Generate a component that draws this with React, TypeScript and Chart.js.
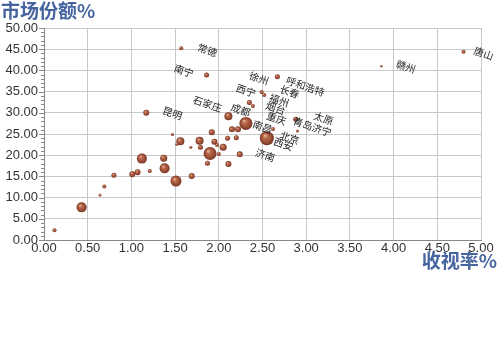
import React, { useEffect, useRef } from "react";
import { Chart, registerables } from "chart.js";
Chart.register(...registerables);

// viewing rate (%)
const ratings = [0.12, 0.43, 0.64, 0.69, 0.80, 1.01, 1.07, 1.12, 1.21, 1.37, 1.38, 1.51, 1.69, 1.47, 1.56, 1.52, 1.68, 1.78, 1.79, 1.92, 1.95, 1.98, 1.90, 1.87, 2.05, 2.00, 2.10, 2.11, 2.24, 2.11, 2.15, 2.22, 2.31, 2.20, 2.35, 2.39, 2.49, 2.52, 2.67, 2.55, 2.62, 2.88, 2.90, 1.17, 1.57, 1.86, 3.86, 4.80];
// market share (%)
const shares = [2.3, 7.7, 10.6, 12.6, 15.3, 15.5, 16.0, 19.2, 16.3, 19.3, 16.9, 13.9, 15.1, 24.9, 23.3, 22.6, 21.9, 23.4, 21.9, 25.4, 23.2, 22.4, 20.4, 18.1, 21.9, 20.3, 24.0, 17.9, 20.2, 29.2, 26.1, 26.1, 27.5, 24.1, 32.4, 31.6, 34.9, 34.2, 38.5, 24.0, 26.2, 28.5, 25.7, 30.0, 45.2, 38.9, 41.0, 44.4];
// bubble size
const sizes = [2, 5, 1.5, 2, 2.5, 3, 3, 5, 2, 3.5, 5, 5.5, 3, 1.5, 4, 1.5, 1.5, 4, 2.5, 3, 3, 2, 6.5, 2.5, 3.5, 2, 2.5, 3, 3, 4, 3, 3, 6.5, 2.5, 2.5, 2, 2, 2, 2.5, 7, 2, 2.5, 1.5, 3, 2, 2.5, 1.2, 2];

const cityNames = ["常德", "南宁", "徐州", "呼和浩特", "西宁", "长春", "福州", "烟台", "石家庄", "成都", "昆明", "太原", "重庆", "青岛济宁", "南昌", "北京", "西安", "济南", "赣州", "唐山"];
const cityLabelX = [1.87, 1.60, 2.46, 2.99, 2.31, 2.81, 2.69, 2.65, 1.87, 2.25, 1.47, 3.20, 2.66, 3.07, 2.50, 2.81, 2.74, 2.53, 4.14, 5.03];
const cityLabelY = [44.8, 39.9, 38.1, 36.2, 35.2, 35.0, 32.9, 31.1, 32.1, 30.7, 29.9, 28.7, 28.7, 26.7, 26.7, 24.1, 22.6, 20.0, 40.9, 44.0];

const xTitle = "收视率%";
const yTitle = "市场份额%";

export default function App() {
  const ref = useRef<HTMLCanvasElement | null>(null);
  useEffect(() => {
    document.body.style.margin = "0";
    const canvas = ref.current;
    if (!canvas) return;
    const data = ratings.map((x, i) => ({ x, y: shares[i], r: sizes[i] }));

    const bubbleFill = (c: any) => {
      const chart = c.chart;
      const raw = c.raw;
      const xs = chart.scales && chart.scales.x;
      const ys = chart.scales && chart.scales.y;
      if (!raw || !xs || !ys) return "#9a4e38";
      const px = xs.getPixelForValue(raw.x);
      const py = ys.getPixelForValue(raw.y);
      const r = raw.r || 2;
      if (!isFinite(px) || !isFinite(py)) return "#9a4e38";
      const g = chart.ctx.createRadialGradient(px - r * 0.3, py - r * 0.4, r * 0.05, px, py, r);
      g.addColorStop(0, "#e0b29a");
      g.addColorStop(0.3, "#b9694d");
      g.addColorStop(0.75, "#964a33");
      g.addColorStop(1, "#733223");
      return g;
    };

    const labelPlugin = {
      id: "labels",
      afterDatasetsDraw(chart: any) {
        const ctx = chart.ctx;
        const xs = chart.scales.x;
        const ys = chart.scales.y;
        ctx.save();
        ctx.font = "10px 'Noto Sans CJK SC'";
        ctx.fillStyle = "#1e1e1e";
        ctx.textAlign = "center";
        ctx.textBaseline = "middle";
        cityNames.forEach((name, i) => {
          const px = xs.getPixelForValue(cityLabelX[i]);
          const py = ys.getPixelForValue(cityLabelY[i]);
          ctx.save();
          ctx.translate(px, py);
          ctx.rotate(0.33);
          ctx.fillText(name, 0, 0);
          ctx.restore();
        });
        ctx.restore();
      },
      afterDraw(chart: any) {
        const ctx = chart.ctx;
        ctx.save();
        ctx.font = "bold 19px 'Noto Sans CJK SC'";
        ctx.fillStyle = "#46649f";
        ctx.textBaseline = "alphabetic";
        ctx.textAlign = "left";
        ctx.fillText(yTitle, 1, 18);
        ctx.textAlign = "right";
        ctx.fillText(xTitle, 497, 268);
        const ys = chart.scales.y;
        const left = chart.chartArea.left;
        ctx.strokeStyle = "#888";
        ctx.lineWidth = 1;
        for (let v = 0; v <= 50; v += 1) {
          const py = Math.round(ys.getPixelForValue(v)) + 0.5;
          const len = v % 5 === 0 ? 5 : 3;
          ctx.beginPath();
          ctx.moveTo(left - len, py);
          ctx.lineTo(left, py);
          ctx.stroke();
        }
        ctx.restore();
      },
    };

    const chart = new Chart(canvas, {
      type: "bubble",
      data: {
        datasets: [
          {
            data,
            backgroundColor: bubbleFill,
            borderWidth: 0,
            hoverRadius: 0,
          } as any,
        ],
      },
      options: {
        animation: false,
        responsive: false,
        events: [],
        layout: { padding: { left: 0, right: 19, top: 28, bottom: 79 } },
        plugins: { legend: { display: false }, tooltip: { enabled: false } },
        scales: {
          x: {
            type: "linear",
            min: 0,
            max: 5,
            afterFit: (s: any) => { s.height = 20; },
            ticks: {
              stepSize: 0.5,
              color: "#333",
              font: { family: "'Liberation Sans', Arial", size: 13 },
              padding: 1,
              callback: (v: any) => Number(v).toFixed(2),
            },
            grid: { color: "#c8c8c8", lineWidth: 1, tickLength: 0, drawTicks: false },
            border: { color: "#888" },
          },
          y: {
            type: "linear",
            min: 0,
            max: 50,
            afterFit: (s: any) => { s.width = 44; },
            ticks: {
              stepSize: 5,
              color: "#333",
              font: { family: "'Liberation Sans', Arial", size: 13 },
              padding: 6,
              callback: (v: any) => Number(v).toFixed(2),
            },
            grid: { color: "#c8c8c8", lineWidth: 1, tickLength: 0, drawTicks: false },
            border: { color: "#888" },
          },
        },
      },
      plugins: [labelPlugin],
    });
    return () => chart.destroy();
  }, []);
  return (
    <div style={{ width: 500, height: 339, background: "#fff" }}>
      <canvas ref={ref} width={500} height={339} style={{ display: "block" }} />
    </div>
  );
}
